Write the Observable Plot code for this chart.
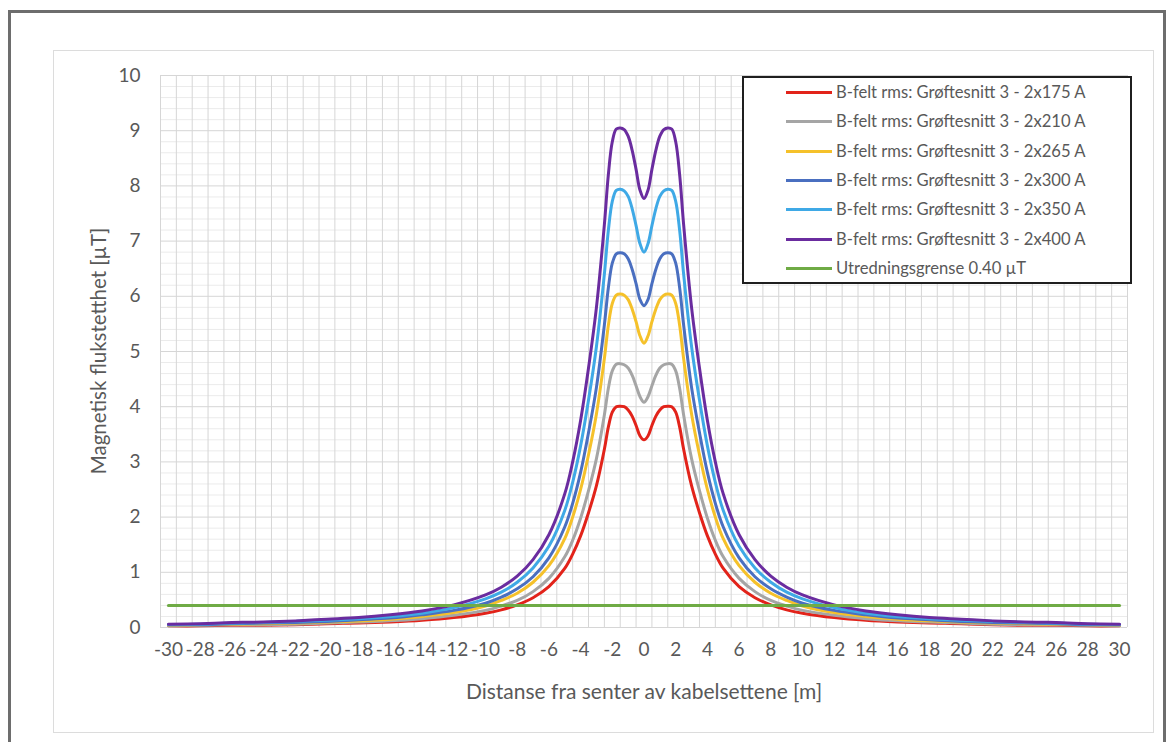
<!DOCTYPE html>
<html><head><meta charset="utf-8">
<script src="https://cdn.jsdelivr.net/npm/d3@7"></script>
<script src="https://cdn.jsdelivr.net/npm/@observablehq/plot@0.6"></script>
<style>
html,body{margin:0;padding:0;background:#fff;overflow:hidden;}
#wrap{position:relative;width:1167px;height:742px;overflow:hidden;font-family:Lato,"Open Sans",sans-serif;color:#595959;}
#outer{position:absolute;left:8px;top:10px;width:1158px;height:800px;border:3px solid #6d6d6d;box-sizing:border-box;}
#inner{position:absolute;left:53px;top:50px;width:1101px;height:683px;border:1px solid #dcdcdc;box-sizing:border-box;}
#chart{position:absolute;left:0;top:0;}
#ylab{position:absolute;left:98px;top:351px;transform:translate(-50%,-50%) rotate(-90deg);white-space:nowrap;font-size:20.5px;}
#xlab{position:absolute;left:644px;top:690px;transform:translate(-50%,-50%);white-space:nowrap;font-size:21px;}
#legend{position:absolute;left:742px;top:76px;width:390px;height:208px;border:2px solid #1f1f1f;background:#fff;box-sizing:border-box;}
.row{position:absolute;left:0;height:20px;display:flex;align-items:center;font-size:16.6px;white-space:nowrap;}
.sw{display:inline-block;width:46px;height:3px;margin-left:42px;margin-right:4px;}
</style></head>
<body><div id="wrap"><div id="outer"></div><div id="inner"></div><div id="chart"></div>
<div id="ylab">Magnetisk flukstetthet [µT]</div>
<div id="xlab">Distanse fra senter av kabelsettene [m]</div>
<div id="legend"></div>
</div>
<script>
const xs = [-30,-28,-26,-24,-22,-20,-18,-16,-14,-12,-10,-9,-8,-7,-6,-5,-4.5,-4,-3.5,-3,-2.5,-2.25,-2,-1.75,-1.5,-1.25,-1,-0.75,-0.5,-0.25,0,0.25,0.5,0.75,1,1.25,1.5,1.75,2,2.25,2.5,3,3.5,4,4.5,5,6,7,8,9,10,12,14,16,18,20,22,24,26,28,30];
const b175 = [0.03,0.03,0.04,0.04,0.05,0.07,0.08,0.10,0.13,0.18,0.26,0.32,0.41,0.54,0.74,1.07,1.33,1.66,2.08,2.57,3.23,3.63,3.90,4.00,4.01,4.00,3.94,3.83,3.66,3.47,3.40,3.47,3.66,3.83,3.94,4.00,4.01,4.00,3.90,3.63,3.23,2.57,2.08,1.66,1.33,1.07,0.74,0.54,0.41,0.32,0.26,0.18,0.13,0.10,0.08,0.07,0.05,0.04,0.04,0.03,0.03];
const b210 = [0.03,0.04,0.05,0.05,0.06,0.08,0.10,0.12,0.16,0.22,0.31,0.39,0.49,0.65,0.89,1.28,1.58,1.98,2.48,3.06,3.85,4.33,4.65,4.77,4.78,4.76,4.70,4.57,4.38,4.18,4.08,4.18,4.38,4.57,4.70,4.76,4.78,4.77,4.65,4.33,3.85,3.06,2.48,1.98,1.58,1.28,0.89,0.65,0.49,0.39,0.31,0.22,0.16,0.12,0.10,0.08,0.06,0.05,0.05,0.04,0.03];
const b265 = [0.04,0.05,0.06,0.07,0.08,0.10,0.12,0.15,0.20,0.27,0.39,0.49,0.62,0.82,1.12,1.61,2.00,2.50,3.13,3.87,4.87,5.47,5.87,6.02,6.04,6.02,5.94,5.77,5.54,5.28,5.15,5.28,5.54,5.77,5.94,6.02,6.04,6.02,5.87,5.47,4.87,3.87,3.13,2.50,2.00,1.61,1.12,0.82,0.62,0.49,0.39,0.27,0.20,0.15,0.12,0.10,0.08,0.07,0.06,0.05,0.04];
const b300 = [0.05,0.05,0.07,0.08,0.09,0.11,0.14,0.17,0.23,0.31,0.44,0.55,0.70,0.92,1.26,1.82,2.25,2.81,3.53,4.35,5.48,6.15,6.60,6.77,6.79,6.77,6.68,6.49,6.23,5.94,5.83,5.94,6.23,6.49,6.68,6.77,6.79,6.77,6.60,6.15,5.48,4.35,3.53,2.81,2.25,1.82,1.26,0.92,0.70,0.55,0.44,0.31,0.23,0.17,0.14,0.11,0.09,0.08,0.07,0.05,0.05];
const b350 = [0.05,0.06,0.08,0.09,0.11,0.13,0.16,0.20,0.26,0.36,0.52,0.64,0.82,1.08,1.47,2.12,2.63,3.29,4.12,5.09,6.40,7.19,7.72,7.92,7.94,7.91,7.81,7.59,7.28,6.95,6.80,6.95,7.28,7.59,7.81,7.91,7.94,7.92,7.72,7.19,6.40,5.09,4.12,3.29,2.63,2.12,1.47,1.08,0.82,0.64,0.52,0.36,0.26,0.20,0.16,0.13,0.11,0.09,0.08,0.06,0.05];
const b400 = [0.06,0.07,0.09,0.10,0.12,0.15,0.18,0.23,0.30,0.41,0.59,0.73,0.93,1.23,1.68,2.42,3.00,3.75,4.70,5.80,7.30,8.20,8.80,9.03,9.05,9.02,8.90,8.65,8.30,7.92,7.77,7.92,8.30,8.65,8.90,9.02,9.05,9.03,8.80,8.20,7.30,5.80,4.70,3.75,3.00,2.42,1.68,1.23,0.93,0.73,0.59,0.41,0.30,0.23,0.18,0.15,0.12,0.10,0.09,0.07,0.06];
const limitX = [-30, 30];
const limitY = [0.40, 0.40];
const seriesNames = ["B-felt rms: Grøftesnitt 3 - 2x175 A","B-felt rms: Grøftesnitt 3 - 2x210 A","B-felt rms: Grøftesnitt 3 - 2x265 A","B-felt rms: Grøftesnitt 3 - 2x300 A","B-felt rms: Grøftesnitt 3 - 2x350 A","B-felt rms: Grøftesnitt 3 - 2x400 A","Utredningsgrense 0.40 µT"];
const seriesColors = ["#e2231a","#a5a5a5","#f5c12a","#4a6fc0","#3fa9e6","#6a2c9f","#6fab45"];
const xTicks = d3.range(-30, 31, 2);
const yTicks = d3.range(0, 11, 1);
const xGrid = d3.range(-30.5, 31, 1);
const yMinor = d3.range(0, 10.01, 0.2).filter(v => Math.abs(v - Math.round(v)) > 1e-6);

const allSeries = [b175, b210, b265, b300, b350, b400];
const lineMarks = allSeries.map((arr, i) =>
  Plot.line(xs.map((x, j) => ({x, y: arr[j]})), {x: "x", y: "y", stroke: seriesColors[i], strokeWidth: 3, curve: "catmull-rom"}));
const limitData = limitX.map((x, j) => ({x, y: limitY[j]}));

const chart = Plot.plot({
  width: 1167, height: 742,
  marginLeft: 160, marginRight: 40, marginTop: 75, marginBottom: 115,
  style: {fontFamily: 'Lato, "Open Sans", sans-serif', fontSize: "19px", color: "#595959", background: "transparent"},
  x: {domain: [-30.5, 30.5], ticks: xTicks, tickSize: 0, tickPadding: 15, label: null, tickFormat: d => String(d)},
  y: {domain: [0, 10], ticks: yTicks, tickSize: 0, tickPadding: 20, label: null, tickFormat: d => String(d)},
  marks: [
    Plot.ruleY(yMinor, {stroke: "#ebebeb", strokeWidth: 1}),
    Plot.ruleX(xGrid, {stroke: "#d6d6d6", strokeWidth: 1}),
    Plot.ruleY(yTicks, {stroke: "#d6d6d6", strokeWidth: 1}),
    ...lineMarks,
    Plot.line(limitData, {x: "x", y: "y", stroke: seriesColors[6], strokeWidth: 3})
  ]
});
document.getElementById("chart").appendChild(chart);

const legend = document.getElementById("legend");
const rowY = [92, 121, 151, 180, 209, 239, 268];
seriesNames.forEach((name, i) => {
  const r = document.createElement("div");
  r.className = "row";
  r.style.top = (rowY[i] - 76 - 2 - 10) + "px";
  r.innerHTML = `<span class="sw" style="background:${seriesColors[i]}"></span><span>${name}</span>`;
  legend.appendChild(r);
});
</script>
</body></html>
